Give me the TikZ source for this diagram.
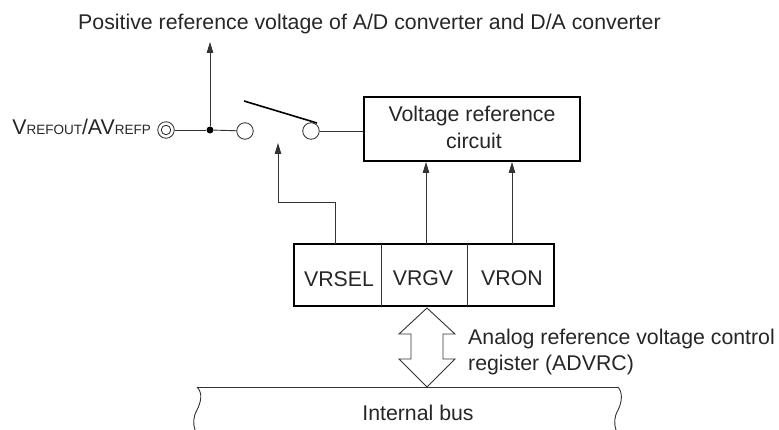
\documentclass[tikz,border=0pt]{standalone}
\usepackage{fontspec}
\setmainfont{Liberation Sans}
\usetikzlibrary{arrows.meta}
\tikzset{
  txt/.style={inner sep=0pt,font=\fontsize{21.3pt}{25pt}\selectfont,text=black!85},
  conn/.style={line width=0.9pt,black!80},
  arr/.style={conn,-{Triangle[length=11pt,width=6.5pt]}},
  contact/.style={circle,draw=black!85,line width=0.8pt,fill=white,minimum size=16.5pt,inner sep=0pt},
  thickbox/.style={draw=black,line width=2pt,inner sep=0pt},
}
\newcommand{\sm}[1]{{\fontsize{13.5pt}{16pt}\selectfont #1}}
\begin{document}
\begin{tikzpicture}[x=1pt,y=-1pt]
\useasboundingbox (0,0) rectangle (779,430);
% text
\node[txt,anchor=base west] (title) at (78,30) {Positive reference voltage of A/D converter and D/A converter};
\node[txt,anchor=base east] (pin) at (151,135) {V\sm{REFOUT}/AV\sm{REFP}};
% terminal
\node[circle,draw=black!85,line width=0.8pt,minimum size=16.5pt,inner sep=0pt] (term) at (166,130) {};
\node[circle,draw=black!85,line width=0.8pt,minimum size=9.5pt,inner sep=0pt] (termin) at (166,130) {};
\node[circle,fill=black,minimum size=7pt,inner sep=0pt] (junc) at (210,130) {};
\node[contact] (c1) at (245,131) {};
\node[contact] (c2) at (311,131) {};
\coordinate (top) at (210,42);
\draw[arr] (junc) -- (top);
\draw[conn] (term) -- (junc);
\draw[conn] (junc) -- (c1);
\coordinate (swa) at (244,101);
\coordinate (swb) at (317,123);
\draw[line width=1.6pt] (swa) -- (swb);
% boxes
\node[thickbox,minimum width=216pt,minimum height=64pt] (vrc) at (472,129) {};
\node[txt] (vrctext1) at (472,116) {Voltage reference};
\node[txt] (vrctext2) at (474,141) {circuit};
\draw[conn] (c2) -- (vrc.west |- c2);
% register
\node[thickbox,minimum width=260pt,minimum height=62pt] (reg) at (424,275) {};
\coordinate (d1a) at (381,244);
\coordinate (d1b) at (381,306);
\coordinate (d2a) at (467,244);
\coordinate (d2b) at (467,306);
\draw[conn] (d1a) -- (d1b);
\draw[conn] (d2a) -- (d2b);
\node[txt,anchor=base] (t1) at (339,287) {VRSEL};
\node[txt,anchor=base] (t2) at (423,286) {VRGV};
\node[txt,anchor=base] (t3) at (512,286) {VRON};
% control arrows
\coordinate (sw) at (278,143);
\coordinate (bend) at (278,202);
\coordinate (r1top) at (335,244);
\coordinate (r2top) at (426,244);
\coordinate (r3top) at (512,244);
\draw[arr] (r1top) -- (r1top |- bend) -- (bend) -- (sw);
\draw[arr] (r2top) -- (r2top |- vrc.south);
\draw[arr] (r3top) -- (r3top |- vrc.south);
% bus arrow
\draw[conn,fill=white] (427,308) -- (455,334) -- (443,334) -- (443,359) -- (455,359) -- (427,387) -- (399,359) -- (411,359) -- (411,334) -- (399,334) -- cycle;
\node[txt,anchor=base west] (lbl) at (468,344) {Analog reference voltage control};
\node[txt,anchor=base west] (lbl2) at (468,370) {register (ADVRC)};
% bus
\coordinate (bl) at (197,387);
\coordinate (br) at (618,387);
\draw[conn] (bl) -- (br);
\draw[conn] (bl) .. controls (203,393) and (201,402) .. (197,410) .. controls (193,417) and (193,424) .. (195,430);
\draw[conn] (br) .. controls (623,393) and (622,402) .. (618,410) .. controls (614,417) and (614,424) .. (616,430);
\node[txt,anchor=base] (bus) at (418,420) {Internal bus};
\end{tikzpicture}
\end{document}
